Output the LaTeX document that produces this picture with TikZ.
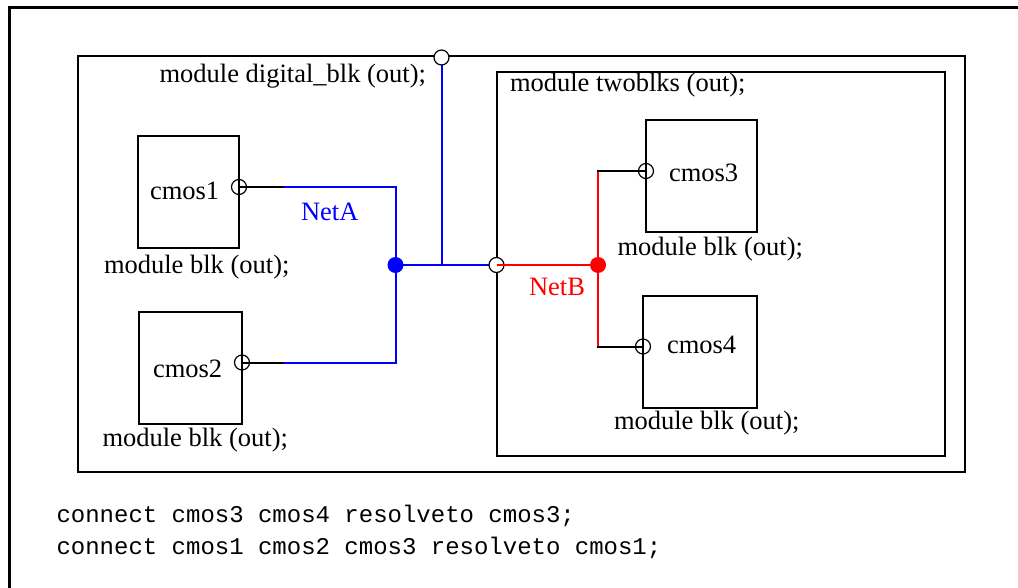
\documentclass[tikz,border=0pt]{standalone}
\usepackage{fontspec}
\setmainfont{Liberation Serif}
\setmonofont{Liberation Mono}
\begin{document}
\begin{tikzpicture}[x=1pt,y=-1pt,
  lbl/.style={font=\fontsize{26.5}{30}\selectfont, inner sep=0pt, outer sep=0pt},
  code/.style={font=\ttfamily\fontsize{24}{28}\selectfont, inner sep=0pt, outer sep=0pt},
  blkbox/.style={draw, line width=2pt, inner sep=0pt, outer sep=0pt},
  modbox/.style={draw, line width=2pt, inner sep=0pt, outer sep=0pt},
  netA/.style={draw=blue, line width=2pt},
  netB/.style={draw=red, line width=2pt},
  stub/.style={draw=black, line width=2pt},
  openport/.style={draw, line width=1.2pt},
  ioport/.style={draw, fill=white, line width=1.2pt},
  netdot/.style={circle, inner sep=0pt, minimum size=16pt}
]
\useasboundingbox (0,0) rectangle (1018,588);
\fill[white] (0,0) rectangle (1018,588);
% outer frame (partly visible)
\draw[line width=3pt] (1018,8) -- (9,8) -- (9,588);

% module boxes
\node[modbox, minimum width=887pt, minimum height=416pt] (dig) at (521.5,264) {};
\node[modbox, minimum width=448.5pt, minimum height=384pt] (two) at (720.75,264) {};

% cmos boxes
\node[blkbox, minimum width=101pt, minimum height=112pt] (c1) at (188.5,192) {};
\node[blkbox, minimum width=103pt, minimum height=112pt] (c2) at (190.5,368) {};
\node[blkbox, minimum width=111pt, minimum height=112pt] (c3) at (701.5,176) {};
\node[blkbox, minimum width=114pt, minimum height=112pt] (c4) at (700,352) {};

% port coordinates
\coordinate (p1) at (239,187);
\coordinate (p2) at (242,362.5);
\coordinate (p3) at (646,171);
\coordinate (p4) at (643,346.5);
\coordinate (pd) at (441.5,57.5);
\coordinate (pt) at (496.5,265);
\coordinate (a1) at (283.5,187);
\coordinate (a2) at (283.5,362.5);
\coordinate (ca1) at (396.5,187);
\coordinate (ca2) at (396.5,362.5);
\coordinate (cb1) at (598,171);
\coordinate (cb2) at (598,346.5);

% nets
\draw[stub] (p1) -- (a1);
\draw[stub] (p2) -- (a2);
\draw[netA] (a1) -- (ca1);
\draw[netA] (a2) -- (ca2);
\draw[netA] (395.5,186) -- (395.5,363.5);
\draw[netA] (pd) -- (441.5,265);
\draw[netA] (395.5,265) -- (pt);
\node[netdot, fill=blue] (da) at (395.5,265) {};

\node[ioport, circle, inner sep=0pt, minimum size=15pt] (ptc) at (pt) {};
\node[ioport, circle, inner sep=0pt, minimum size=15pt] (pdc) at (pd) {};

\draw[netB] (pt) -- (598,265);
\draw[netB] (cb1) -- (cb2);
\draw[stub] (597,171) -- (p3);
\draw[stub] (597,346.5) -- (p4);
\node[netdot, fill=red] (db) at (598,265) {};

% cmos ports
\draw[openport] (p1) circle (7.5pt);
\draw[openport] (p2) circle (7.5pt);
\draw[openport] (p3) circle (7.5pt);
\draw[openport] (p4) circle (7.5pt);

% labels
\node[lbl, anchor=base east] (tdig) at (426,83) {module digital\_blk (out);};
\node[lbl, anchor=base west] (ttwo) at (510,92) {module twoblks (out);};
\node[lbl, anchor=base west] (t1) at (150,200) {cmos1};
\node[lbl, anchor=base west] (t2) at (153,377) {cmos2};
\node[lbl, anchor=base west] (t3) at (669,181.5) {cmos3};
\node[lbl, anchor=base west] (t4) at (667,353) {cmos4};
\node[lbl, anchor=base west] (m1) at (104,274) {module blk (out);};
\node[lbl, anchor=base west] (m2) at (102.5,446.5) {module blk (out);};
\node[lbl, anchor=base west] (m3) at (617.5,256) {module blk (out);};
\node[lbl, anchor=base west] (m4) at (614,429.5) {module blk (out);};
\node[lbl, anchor=base west, text=blue] (na) at (301,221) {NetA};
\node[lbl, anchor=base west, text=red] (nb) at (529,295) {NetB};

\node[code, anchor=base west] (l1) at (56.5,522.5) {connect cmos3 cmos4 resolveto cmos3;};
\node[code, anchor=base west] (l2) at (56.5,554) {connect cmos1 cmos2 cmos3 resolveto cmos1;};
\end{tikzpicture}
\end{document}
